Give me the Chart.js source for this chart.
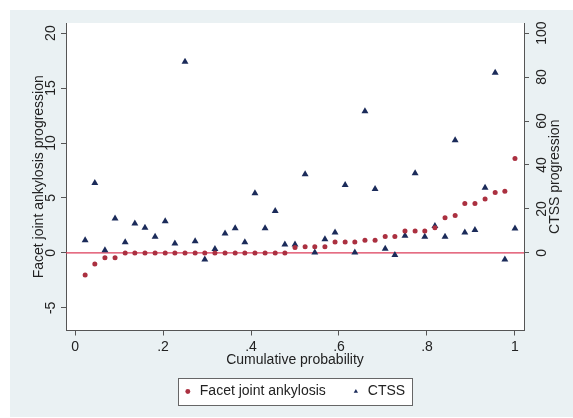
<!DOCTYPE html>
<html>
<head>
<meta charset="utf-8">
<script src="https://cdn.jsdelivr.net/npm/chart.js@4.4.1/dist/chart.umd.min.js"></script>
<style>
  body { margin: 0; overflow: hidden; background: #fff; }
</style>
</head>
<body>
<canvas id="quantiles" width="573" height="418"></canvas>
<script>
  // ===== data =====
  const cumProb = [0.023, 0.045, 0.068, 0.091, 0.114, 0.136, 0.159, 0.182, 0.205, 0.227,
    0.25, 0.273, 0.295, 0.318, 0.341, 0.364, 0.386, 0.409, 0.432, 0.455,
    0.477, 0.5, 0.523, 0.545, 0.568, 0.591, 0.614, 0.636, 0.659, 0.682,
    0.705, 0.727, 0.75, 0.773, 0.795, 0.818, 0.841, 0.864, 0.886, 0.909,
    0.932, 0.955, 0.977, 1.0];
  const facetValues = [-2, -1, -0.45, -0.45, 0, 0, 0, 0, 0, 0,
    0, 0, 0, 0, 0, 0, 0, 0, 0, 0,
    0, 0.5, 0.55, 0.55, 0.55, 1, 1, 1, 1.15, 1.15,
    1.5, 1.5, 2, 2, 2, 2.3, 3.2, 3.4, 4.5, 4.5,
    4.9, 5.5, 5.6, 8.6];
  const ctssValues = [5.8, 31.8, 1.2, 15.6, 4.8, 13.4, 11.4, 7.3, 14.4, 4.3,
    87, 5.3, -3, 1.8, 8.8, 11.2, 4.9, 27.2, 11.2, 19.1,
    3.8, 3.8, 35.8, 0.2, 6.2, 9.3, 30.9, 0.2, 64.5, 29.1,
    1.9, -0.9, 7.8, 36.2, 7.4, 12.2, 7.3, 51.2, 9.3, 10.4,
    29.6, 82, -3, 11.1];
  const refLine = [0, 0];

  const xTicks = [0, 0.2, 0.4, 0.6, 0.8, 1];
  const xTickLabels = ["0", ".2", ".4", ".6", ".8", "1"];
  const yTicks = [-5, 0, 5, 10, 15, 20];
  const y2Ticks = [0, 20, 40, 60, 80, 100];

  // axis ranges
  const xMin = -0.0205, xMax = 1.0205;
  const yMin = -7.06, yMax = 20.92;
  const y2Min = -35.3, y2Max = 104.6;

  const FONT = "'Liberation Sans', Arial, Helvetica, sans-serif";
  const TEXT = "#222";
  const AXIS = "#555";

  const stataLook = {
    id: "stataLook",
    afterLayout(chart) {
      // centre legend under the plot and move it down like Stata does
      const lg = chart.legend;
      const pad = lg.options.labels.padding;
      const dx = 294 - (lg.left + lg.right) / 2;
      lg.left += dx;
      lg.right += dx;
      const dy = 391.5 - pad - 7 - lg.top;
      lg.top += dy;
      lg.bottom += dy;
    },
    beforeDraw(chart) {
      const { ctx, chartArea } = chart;
      ctx.save();
      ctx.fillStyle = "#eaf1f3";
      ctx.fillRect(10, 10, chart.width - 10, chart.height - 11);
      ctx.fillStyle = "#fff";
      ctx.fillRect(chartArea.left, chartArea.top, chartArea.right - chartArea.left, chartArea.bottom - chartArea.top);
      // legend frame
      const hb = chart.legend.legendHitBoxes;
      if (hb && hb.length) {
        const last = hb[hb.length - 1];
        const x0 = Math.round(hb[0].left - 5) + 0.5;
        const x1 = Math.round(last.left + last.width + 7) + 0.5;
        const cy = hb[0].top + hb[0].height / 2;
        const y0 = Math.round(cy - 13.5) + 0.5;
        const y1 = Math.round(cy + 13) + 0.5;
        ctx.fillRect(x0, y0, x1 - x0, y1 - y0);
        ctx.strokeStyle = "#666";
        ctx.lineWidth = 1;
        ctx.strokeRect(x0, y0, x1 - x0, y1 - y0);
      }
      ctx.restore();
    },
    afterDraw(chart) {
      // right-hand axis title reads bottom-to-top in the original
      const { ctx, chartArea } = chart;
      const s = chart.scales.y2;
      ctx.save();
      ctx.translate(s.left + 31, (chartArea.top + chartArea.bottom) / 2);
      ctx.rotate(-Math.PI / 2);
      ctx.font = "14px " + FONT;
      ctx.fillStyle = TEXT;
      ctx.textAlign = "center";
      ctx.textBaseline = "middle";
      ctx.fillText("CTSS progression", 0, 0);
      ctx.restore();
    },
  };

  const quantiles = document.getElementById("quantiles");
  new Chart(quantiles, {
    type: "scatter",
    plugins: [stataLook],
    data: {
      datasets: [
        {
          label: "Facet joint ankylosis",
          data: cumProb.map((p, i) => ({ x: p, y: facetValues[i] })),
          yAxisID: "y",
          pointStyle: "circle",
          pointRadius: 2.5,
          pointBorderWidth: 0,
          backgroundColor: "#ab3040",
          borderColor: "#ab3040",
        },
        {
          label: "CTSS",
          data: cumProb.map((p, i) => ({ x: p, y: ctssValues[i] })),
          yAxisID: "y2",
          pointStyle: "triangle",
          pointRadius: 4,
          pointBorderWidth: 0,
          backgroundColor: "#1b2b5a",
          borderColor: "#1b2b5a",
        },
        {
          type: "line",
          label: "zero",
          data: [{ x: xMin, y: refLine[0] }, { x: xMax, y: refLine[1] }],
          yAxisID: "y",
          borderColor: "#dc3c5a",
          borderWidth: 1.2,
          pointRadius: 0,
          fill: false,
        },
      ],
    },
    options: {
      responsive: false,
      animation: false,
      layout: {
        padding: { left: 10, right: 0, top: 23, bottom: 0 },
      },
      scales: {
        x: {
          type: "linear",
          min: xMin,
          max: xMax,
          afterBuildTicks: (s) => { s.ticks = xTicks.map((v) => ({ value: v })); },
          afterFit: (s) => { s.height = s.chart.height - 330.5 - s.chart.legend.height; },
          grid: { drawOnChartArea: false, drawTicks: true, tickLength: 5, color: AXIS },
          border: { display: true, color: AXIS, width: 1 },
          ticks: {
            padding: 3,
            color: TEXT,
            font: { family: FONT, size: 14 },
            callback: (v, i) => xTickLabels[i],
          },
          title: {
            display: true,
            text: "Cumulative probability",
            color: TEXT,
            font: { family: FONT, size: 14, lineHeight: 1.2 },
            padding: { top: 0, bottom: 0 },
          },
        },
        y: {
          type: "linear",
          position: "left",
          min: yMin,
          max: yMax,
          afterBuildTicks: (s) => { s.ticks = yTicks.map((v) => ({ value: v })); },
          afterFit: (s) => { s.width = 56; },
          grid: { drawOnChartArea: false, drawTicks: true, tickLength: 5, color: AXIS },
          border: { display: true, color: AXIS, width: 1 },
          ticks: {
            minRotation: 90,
            maxRotation: 90,
            crossAlign: "center",
            padding: 2,
            color: TEXT,
            font: { family: FONT, size: 14 },
          },
          title: {
            display: true,
            text: "Facet joint ankylosis progression",
            color: TEXT,
            font: { family: FONT, size: 14, lineHeight: 1.2 },
            padding: { top: 21, bottom: 0 },
          },
        },
        y2: {
          type: "linear",
          position: "right",
          min: y2Min,
          max: y2Max,
          afterBuildTicks: (s) => { s.ticks = y2Ticks.map((v) => ({ value: v })); },
          afterFit: (s) => { s.width = 49; },
          grid: { drawOnChartArea: false, drawTicks: true, tickLength: 5, color: AXIS },
          border: { display: true, color: AXIS, width: 1 },
          ticks: {
            minRotation: 90,
            maxRotation: 90,
            crossAlign: "center",
            padding: 1,
            color: TEXT,
            font: { family: FONT, size: 14 },
          },
          title: { display: false },
        },
      },
      plugins: {
        tooltip: { enabled: false },
        legend: {
          display: true,
          position: "bottom",
          align: "center",
          labels: {
            filter: (item) => item.datasetIndex !== 2,
            usePointStyle: true,
            boxWidth: 10,
            boxHeight: 3.5,
            padding: 25,
            color: TEXT,
            font: { family: FONT, size: 14 },
          },
        },
      },
    },
  });
</script>
</body>
</html>
